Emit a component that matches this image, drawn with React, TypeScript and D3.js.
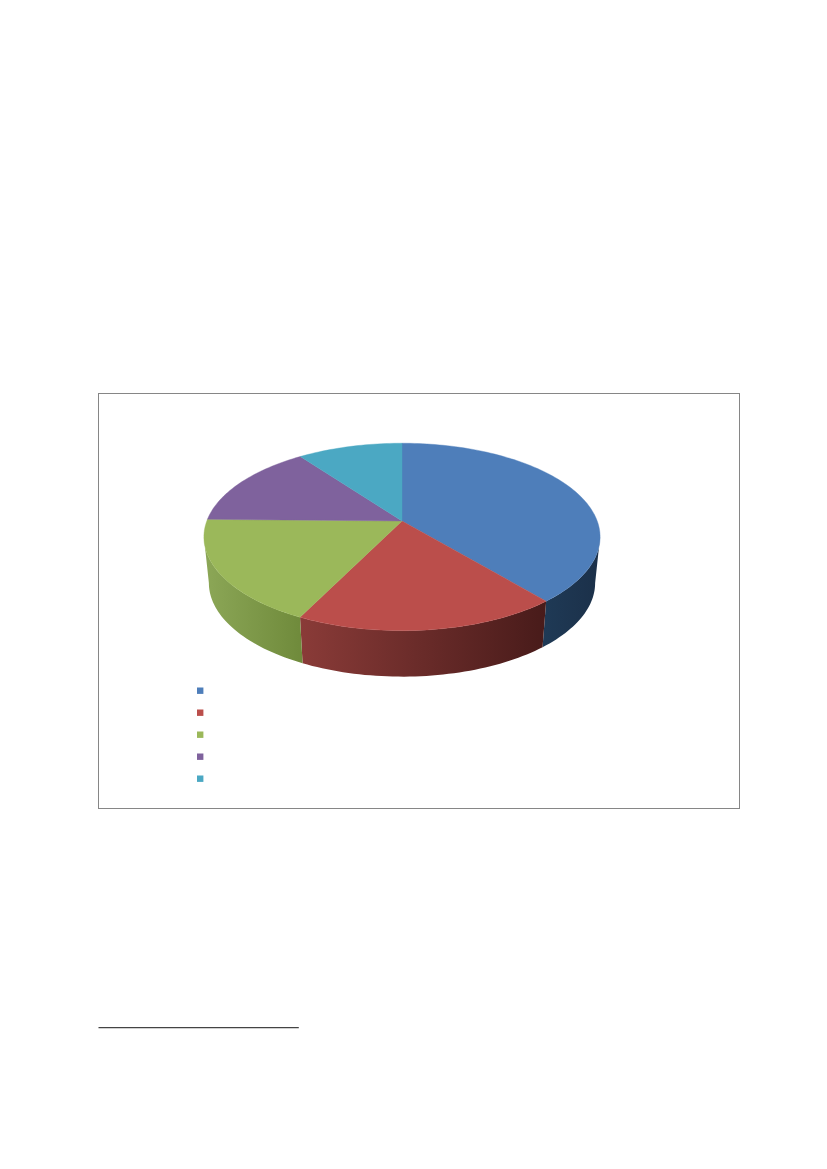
import { useEffect, useRef } from "react";
import * as d3 from "d3";

const categories = ["A", "B", "C", "D", "E"];
const values = [38.9, 18.4, 18.0, 14.6, 10.1];
const topColors = ["#4e7eba", "#bb4e4b", "#9bb85a", "#7f629d", "#4ba8c3"];
const sideFrom = ["#1f3a56", "#8a3b38", "#8ca757", "#5f4a79", "#2f7d92"];
const sideTo = ["#1b3049", "#481b1a", "#6f8a3b", "#5f4a79", "#2f7d92"];

// perspective of the pie: the apex is not the middle of the ellipse
const apexX = 402;
const apexY = 521;
const radX = 195.2;
const radY = 91;
const tilt = 0.17;
const depth = 46;
const bottomScale = 0.975;

function project(angle: number, bottom: boolean): [number, number] {
    const u = Math.sin(angle);
    const v = Math.cos(angle);
    const w = 1 + tilt * v;
    const sx = bottom ? bottomScale : 1;
    return [
        apexX + (sx * radX * u) / w,
        apexY + (bottom ? depth : 0) - (radY * v) / w,
    ];
}

function rim(a0: number, a1: number, bottom: boolean): [number, number][] {
    const n = Math.max(2, Math.ceil(Math.abs(a1 - a0) * 40));
    return d3.range(n + 1).map((i) => project(a0 + ((a1 - a0) * i) / n, bottom));
}

export default function App() {
    const svgRef = useRef<SVGSVGElement>(null);

    useEffect(() => {
        const svg = d3.select(svgRef.current);
        svg.selectAll("*").remove();

        svg.append("rect")
            .attr("x", 98.5)
            .attr("y", 393.5)
            .attr("width", 641)
            .attr("height", 415)
            .attr("fill", "#fff")
            .attr("stroke", "#868686")
            .attr("stroke-width", 1);

        const pie = d3.pie<number>().sort(null)(values);
        const line = d3.line();
        const defs = svg.append("defs");

        // side walls: visible from the widest point of the ellipse, round the front
        const visibleFrom = Math.acos(-tilt);
        const visibleTo = Math.PI * 2 - visibleFrom;
        pie.forEach((p, i) => {
            const a0 = Math.max(p.startAngle, visibleFrom);
            const a1 = Math.min(p.endAngle, visibleTo);
            if (a1 <= a0) return;
            const top = rim(a0, a1, false);
            const bot = rim(a0, a1, true).reverse();
            const xs = top.concat(bot).map((d) => d[0]);
            const grad = defs.append("linearGradient")
                .attr("id", "side" + i)
                .attr("gradientUnits", "userSpaceOnUse")
                .attr("x1", d3.min(xs)!)
                .attr("x2", d3.max(xs)!)
                .attr("y1", 0)
                .attr("y2", 0);
            grad.append("stop").attr("offset", 0).attr("stop-color", sideFrom[i]);
            grad.append("stop").attr("offset", 1).attr("stop-color", sideTo[i]);
            svg.append("path")
                .attr("d", line(top.concat(bot)) + "Z")
                .attr("fill", "url(#side" + i + ")");
        });

        // top face
        pie.forEach((p, i) => {
            const pts: [number, number][] = [[apexX, apexY], ...rim(p.startAngle, p.endAngle, false)];
            svg.append("path")
                .attr("d", line(pts) + "Z")
                .attr("fill", topColors[i])
                .attr("stroke", topColors[i])
                .attr("stroke-width", 0.4);
        });

        // legend markers, the labels are blank in the page
        const yLegend = d3.scalePoint<string>().domain(categories).range([690.7, 778.7]);
        svg.selectAll("rect.key")
            .data(categories)
            .join("rect")
            .attr("class", "key")
            .attr("x", 197)
            .attr("y", (d) => yLegend(d)! - 3.2)
            .attr("width", 6.4)
            .attr("height", 6.4)
            .attr("fill", (d, i) => topColors[i]);

        // footnote rule under the text
        svg.append("line")
            .attr("x1", 98.5)
            .attr("x2", 298.8)
            .attr("y1", 1027.6)
            .attr("y2", 1027.6)
            .attr("stroke", "#444")
            .attr("stroke-width", 1.1);
    }, []);

    return (
        <svg
            ref={svgRef}
            width={827}
            height={1169}
            style={{ position: "absolute", left: 0, top: 0, display: "block" }}
        />
    );
}
